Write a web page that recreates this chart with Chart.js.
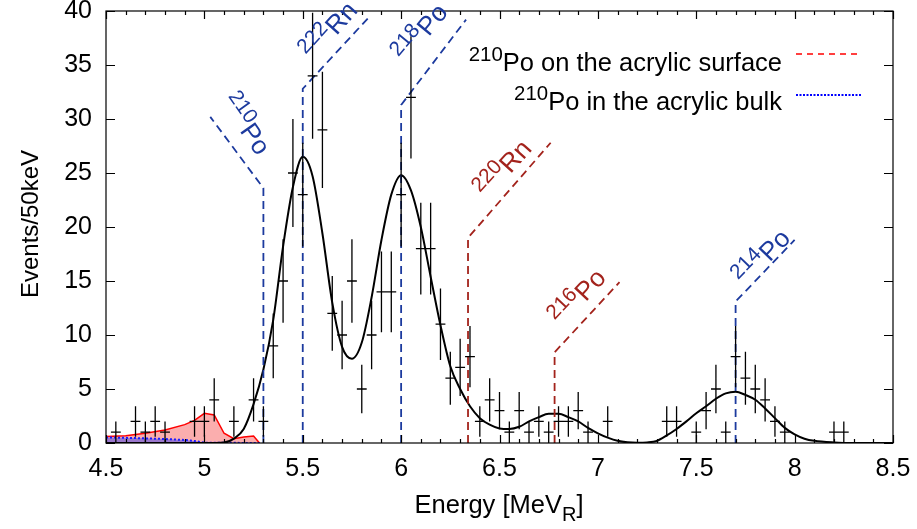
<!DOCTYPE html>
<html>
<head>
<meta charset="utf-8">
<script src="https://cdn.jsdelivr.net/npm/chart.js@4.4.0/dist/chart.umd.min.js"></script>
<style>
  body { margin: 0; background: #fff; }
</style>
</head>
<body>
<canvas id="myChart" width="917" height="529"></canvas>
<script>
// measured spectrum, 50 keV bins (bin centre, counts)
const energy = [4.55, 4.65, 4.70, 4.75, 4.80, 4.95, 5.00, 5.05, 5.15, 5.25, 5.30, 5.35, 5.40, 5.45, 5.50,
                5.55, 5.60, 5.65, 5.70, 5.75, 5.80, 5.85, 5.90, 5.95, 6.00, 6.05, 6.10, 6.15, 6.20, 6.25,
                6.30, 6.35, 6.40, 6.45, 6.50, 6.55, 6.60, 6.65, 6.70, 6.75, 6.80, 6.85, 6.90, 6.95, 7.05,
                7.35, 7.40, 7.50, 7.55, 7.60, 7.65, 7.70, 7.75, 7.80, 7.85, 7.90, 7.95, 8.20, 8.25];
const counts = [1, 2, 1, 2, 1, 2, 2, 4, 2, 4, 2, 9, 15, 25, 23,
                34, 29, 12, 10, 15, 5, 10, 14, 14, 23, 32, 18, 18, 11, 6,
                7, 8, 2, 4, 3, 1, 3, 1, 2, 1, 2, 2, 3, 1, 2,
                2, 2, 1, 3, 5, 1, 8, 6, 5, 4, 2, 1, 1, 1];
const binHalf = 0.025;

// fitted total spectrum (black curve)
const fitEnergy = [4.5, 5.0, 5.1, 5.15, 5.2, 5.25, 5.3, 5.35, 5.4, 5.45, 5.5, 5.55, 5.6, 5.65, 5.7, 5.75,
                   5.8, 5.85, 5.9, 5.95, 6.0, 6.05, 6.1, 6.15, 6.2, 6.25, 6.3, 6.35, 6.4, 6.45, 6.5, 6.55,
                   6.6, 6.65, 6.7, 6.75, 6.8, 6.85, 6.9, 6.95, 7.0, 7.05, 7.1, 7.15, 7.2, 7.25, 7.3, 7.35,
                   7.4, 7.45, 7.5, 7.55, 7.6, 7.65, 7.7, 7.75, 7.8, 7.85, 7.9, 7.95, 8.0, 8.05, 8.1, 8.2, 8.3, 8.5];
const fitValues = [0, 0, 0.05, 0.4, 1.3, 3.6, 6.8, 11.4, 18.2, 23.7, 26.5, 24.7, 19.4, 13.0, 8.9, 7.8,
                   9.3, 13.5, 18.8, 23.0, 24.8, 23.4, 20.0, 15.4, 10.9, 7.1, 5.0, 3.4, 2.3, 1.7, 1.35, 1.3,
                   1.5, 2.0, 2.4, 2.7, 2.7, 2.4, 2.0, 1.4, 0.9, 0.5, 0.2, 0.06, 0.02, 0.05, 0.2, 0.7,
                   1.3, 2.0, 2.75, 3.4, 4.1, 4.6, 4.75, 4.45, 4.0, 3.2, 2.3, 1.4, 0.8, 0.4, 0.2, 0.05, 0, 0];

// 210Po on the acrylic surface (red)
const surfEnergy = [4.5, 4.6, 4.7, 4.8, 4.9, 4.95, 5.0, 5.05, 5.1, 5.15, 5.2, 5.25, 5.28];
const surfValues = [0.6, 0.68, 0.9, 1.2, 1.7, 2.1, 2.75, 2.6, 0.9, 0.4, 0.55, 0.65, 0];

// 210Po in the acrylic bulk (blue)
const bulkEnergy = [4.5, 4.6, 4.7, 4.8, 4.9, 4.95, 5.0, 5.28];
const bulkValues = [0.52, 0.48, 0.43, 0.37, 0.28, 0.18, 0.03, 0];

const xTicks = [4.5, 5, 5.5, 6, 6.5, 7, 7.5, 8, 8.5];
const yTicks = [0, 5, 10, 15, 20, 25, 30, 35, 40];

// peak markers: line energy, knee height, diagonal end, label centre
const peaks = [
  { iso: '210', el: 'Po', e: 5.30, top: 23.6, e2: 5.03, v2: 30.2, le: 5.21, lv: 29.5, ang: 55, color: '#1c3a9e' },
  { iso: '222', el: 'Rn', e: 5.50, top: 32.8, e2: 5.83, v2: 39.3, le: 5.635, lv: 38.2, ang: -48, color: '#1c3a9e' },
  { iso: '218', el: 'Po', e: 6.00, top: 31.3, e2: 6.33, v2: 39.2, le: 6.10, lv: 38.0, ang: -50, color: '#1c3a9e' },
  { iso: '220', el: 'Rn', e: 6.34, top: 19.0, e2: 6.76, v2: 27.8, le: 6.52, lv: 25.4, ang: -48, color: '#a3231c' },
  { iso: '216', el: 'Po', e: 6.78, top: 8.4, e2: 7.11, v2: 14.9, le: 6.90, lv: 13.5, ang: -47, color: '#a3231c' },
  { iso: '214', el: 'Po', e: 7.70, top: 13.1, e2: 8.00, v2: 18.8, le: 7.835, lv: 17.2, ang: -46, color: '#1c3a9e' }
];

const FONT = "'Liberation Sans', Arial, sans-serif";

function pts(xs, ys) {
  return xs.map((x, i) => ({ x: x, y: ys[i] }));
}

// text with a leading superscript, e.g. 210Po
function drawSup(ctx, sup, main, x, y, size, align) {
  const supSize = size * 0.8;
  ctx.font = supSize + 'px ' + FONT;
  const w1 = ctx.measureText(sup).width;
  ctx.font = size + 'px ' + FONT;
  const w2 = ctx.measureText(main).width;
  let x0 = x;
  if (align === 'right') x0 = x - w1 - w2;
  if (align === 'center') x0 = x - (w1 + w2) / 2;
  ctx.textAlign = 'left';
  ctx.textBaseline = 'alphabetic';
  ctx.font = supSize + 'px ' + FONT;
  ctx.fillText(sup, x0, y - size * 0.4);
  ctx.font = size + 'px ' + FONT;
  ctx.fillText(main, x0 + w1, y);
}

const frame = {
  id: 'frame',
  afterDatasetsDraw(chart) {
    const { ctx, chartArea: a, scales: { x, y } } = chart;
    ctx.save();

    // peak markers
    ctx.lineWidth = 1.8;
    ctx.setLineDash([8, 5]);
    peaks.forEach(p => {
      ctx.strokeStyle = p.color;
      ctx.beginPath();
      ctx.moveTo(x.getPixelForValue(p.e), y.getPixelForValue(0));
      ctx.lineTo(x.getPixelForValue(p.e), y.getPixelForValue(p.top));
      ctx.lineTo(x.getPixelForValue(p.e2), y.getPixelForValue(p.v2));
      ctx.stroke();
    });
    ctx.setLineDash([]);

    // data crosses
    ctx.strokeStyle = '#000';
    ctx.lineWidth = 1.3;
    ctx.beginPath();
    energy.forEach((e, i) => {
      const n = counts[i];
      const err = Math.sqrt(n);
      const px = x.getPixelForValue(e);
      const py = y.getPixelForValue(n);
      ctx.moveTo(x.getPixelForValue(e - binHalf), py);
      ctx.lineTo(x.getPixelForValue(e + binHalf), py);
      ctx.moveTo(px, y.getPixelForValue(Math.max(0, n - err)));
      ctx.lineTo(px, y.getPixelForValue(n + err));
    });
    ctx.stroke();

    // box and inward ticks
    ctx.strokeStyle = '#000';
    ctx.lineWidth = 1.2;
    ctx.strokeRect(a.left, a.top, a.right - a.left, a.bottom - a.top);
    ctx.beginPath();
    for (let k = 0; k <= 40; k++) {
      const v = 4.5 + k * 0.1;
      const px = Math.round(x.getPixelForValue(v)) + 0.5;
      const len = k % 5 === 0 ? 8 : 4;
      ctx.moveTo(px, a.bottom); ctx.lineTo(px, a.bottom - len);
      ctx.moveTo(px, a.top); ctx.lineTo(px, a.top + len);
    }
    yTicks.forEach(v => {
      const py = Math.round(y.getPixelForValue(v)) + 0.5;
      ctx.moveTo(a.left, py); ctx.lineTo(a.left + 9, py);
      ctx.moveTo(a.right, py); ctx.lineTo(a.right - 9, py);
    });
    ctx.stroke();
    ctx.restore();
  },
  afterDraw(chart) {
    const { ctx, chartArea: a, scales: { x, y } } = chart;
    ctx.save();

    // peak labels
    peaks.forEach(p => {
      ctx.save();
      ctx.translate(x.getPixelForValue(p.le), y.getPixelForValue(p.lv));
      ctx.rotate(p.ang * Math.PI / 180);
      ctx.fillStyle = p.color;
      drawSup(ctx, p.iso, p.el, 0, 9, 26, 'center');
      ctx.restore();
    });

    // legend
    ctx.fillStyle = '#000';
    drawSup(ctx, '210', 'Po on the acrylic surface', 782, 71, 25.5, 'right');
    drawSup(ctx, '210', 'Po in the acrylic bulk', 782, 110, 25.5, 'right');
    ctx.lineWidth = 1.5;
    ctx.strokeStyle = '#ff0000';
    ctx.setLineDash([6, 5]);
    ctx.beginPath(); ctx.moveTo(796, 54); ctx.lineTo(862, 54); ctx.stroke();
    ctx.strokeStyle = '#0000ff';
    ctx.lineWidth = 2;
    ctx.setLineDash([2, 1.5]);
    ctx.beginPath(); ctx.moveTo(796, 95); ctx.lineTo(862, 95); ctx.stroke();
    ctx.setLineDash([]);

    // axis titles
    ctx.fillStyle = '#000';
    ctx.save();
    ctx.translate(31, 224);
    ctx.rotate(-Math.PI / 2);
    ctx.font = '24px ' + FONT;
    ctx.textAlign = 'center';
    ctx.textBaseline = 'middle';
    ctx.fillText('Events/50keV', 0, 0);
    ctx.restore();

    ctx.font = '25.5px ' + FONT;
    const t1 = 'Energy [MeV';
    const w1 = ctx.measureText(t1).width;
    ctx.font = '20px ' + FONT;
    const w2 = ctx.measureText('R').width;
    ctx.font = '25.5px ' + FONT;
    const w3 = ctx.measureText(']').width;
    const x0 = 499 - (w1 + w2 + w3) / 2;
    ctx.textAlign = 'left';
    ctx.textBaseline = 'alphabetic';
    ctx.fillText(t1, x0, 513);
    ctx.font = '20px ' + FONT;
    ctx.fillText('R', x0 + w1, 521);
    ctx.font = '25.5px ' + FONT;
    ctx.fillText(']', x0 + w1 + w2, 513);
    ctx.restore();
  }
};

const ctx = document.getElementById('myChart').getContext('2d');
const myChart = new Chart(ctx, {
  type: 'scatter',
  data: {
    datasets: [{
      label: 'surface',
      data: pts(surfEnergy, surfValues),
      showLine: true,
      borderColor: '#ff0000',
      borderWidth: 1.5,
      backgroundColor: 'rgba(250, 160, 160, 0.85)',
      fill: 'origin',
      pointRadius: 0,
      order: 5
    }, {
      label: 'bulk',
      data: pts(bulkEnergy, bulkValues),
      showLine: true,
      borderColor: '#1a1aff',
      borderWidth: 2,
      borderDash: [2, 2],
      backgroundColor: 'rgb(155, 120, 205)',
      fill: 'origin',
      pointRadius: 0,
      order: 4
    }, {
      label: 'fit',
      data: pts(fitEnergy, fitValues),
      showLine: true,
      borderColor: '#000',
      borderWidth: 2,
      cubicInterpolationMode: 'monotone',
      pointRadius: 0,
      fill: false,
      order: 3
    }, {
      label: 'data',
      data: pts(energy, counts),
      pointRadius: 0,
      showLine: false,
      order: 1
    }]
  },
  options: {
    responsive: false,
    animation: false,
    layout: { padding: { top: 11, right: 24, left: 0, bottom: 0 } },
    plugins: {
      legend: { display: false },
      tooltip: { enabled: false }
    },
    scales: {
      x: {
        type: 'linear',
        min: 4.5,
        max: 8.5,
        afterBuildTicks: s => { s.ticks = xTicks.map(v => ({ value: v })); },
        afterFit: s => { s.height = 86; s.paddingLeft = 0; s.paddingRight = 0; },
        grid: { display: false, drawTicks: false },
        border: { display: false },
        ticks: {
          color: '#000',
          padding: 11,
          maxRotation: 0,
          autoSkip: false,
          font: { family: FONT, size: 25 },
          callback: v => String(v)
        }
      },
      y: {
        min: 0,
        max: 40,
        afterBuildTicks: s => { s.ticks = yTicks.map(v => ({ value: v })); },
        afterFit: s => { s.width = 106; s.paddingTop = 0; s.paddingBottom = 0; },
        grid: { display: false, drawTicks: false },
        border: { display: false },
        ticks: {
          color: '#000',
          padding: 14,
          font: { family: FONT, size: 25 },
          callback: v => String(v)
        }
      }
    }
  },
  plugins: [frame]
});
</script>
</body>
</html>
